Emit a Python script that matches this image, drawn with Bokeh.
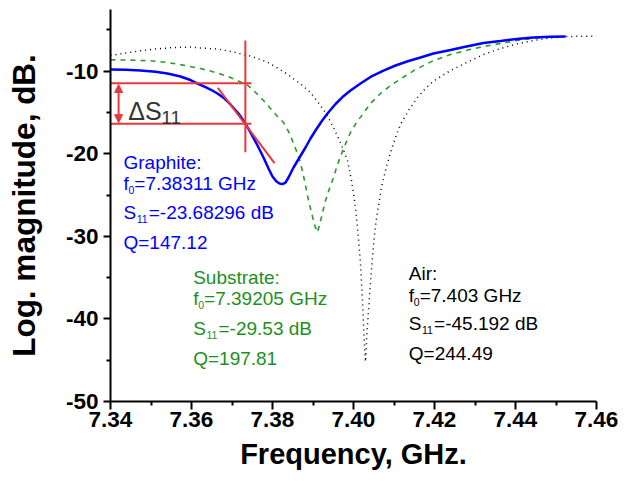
from bokeh.plotting import figure
from bokeh.models import Range1d, Arrow, NormalHead, FixedTicker, CustomJSTickFormatter
from bokeh.core.properties import value
from bokeh.embed import file_html
from bokeh.resources import INLINE

# ---------------- data ----------------
graphite_f = [7.34000, 7.34370, 7.34741, 7.35111, 7.35407, 7.35728, 7.35975, 7.36148,
              7.36346, 7.36469, 7.36642, 7.36815, 7.36963, 7.37160, 7.37333, 7.37457,
              7.37605, 7.37778, 7.37901, 7.38000, 7.38099, 7.38173, 7.38247, 7.38321,
              7.38395, 7.38519, 7.38667, 7.38815, 7.38938, 7.39062, 7.39210, 7.39358,
              7.39556, 7.39728, 7.39926, 7.40173, 7.40420, 7.40741, 7.41037, 7.41358,
              7.41654, 7.41975, 7.42395, 7.42790, 7.43210, 7.43630, 7.44025, 7.44444,
              7.44864, 7.45235]
graphite_s11 = [-9.81, -9.84, -9.93, -10.07, -10.29, -10.65, -11.08, -11.50,
                -11.93, -12.23, -12.71, -13.32, -14.04, -15.13, -16.38, -17.43,
                -18.77, -20.46, -21.79, -22.76, -23.37, -23.61, -23.68, -23.49,
                -22.88, -21.67, -20.46, -19.25, -18.16, -17.19, -16.10, -15.13,
                -13.98, -13.14, -12.34, -11.50, -10.71, -9.93, -9.32, -8.78,
                -8.35, -7.87, -7.45, -7.02, -6.60, -6.36, -6.11, -5.93,
                -5.85, -5.81]

substrate_f = [7.34000, 7.34494, 7.34988, 7.35407, 7.35852, 7.36222, 7.36469, 7.36716,
               7.36963, 7.37210, 7.37333, 7.37531, 7.37778, 7.37951, 7.38123, 7.38272,
               7.38395, 7.38543, 7.38691, 7.38790, 7.38889, 7.38963, 7.39037, 7.39104,
               7.39160, 7.39235, 7.39309, 7.39407, 7.39506, 7.39605, 7.39753, 7.39926,
               7.40074, 7.40222, 7.40420, 7.40667, 7.40914, 7.41160, 7.41531, 7.41975,
               7.42395, 7.42815, 7.43210, 7.43630, 7.44025, 7.44444, 7.44864, 7.45235]
substrate_s11 = [-8.63, -8.67, -8.75, -8.96, -9.32, -9.69, -9.99, -10.35,
                 -10.77, -11.32, -11.47, -12.34, -13.56, -14.52, -15.50, -16.22,
                 -17.31, -19.01, -21.07, -23.24, -25.67, -27.12, -28.57, -29.53,
                 -28.69, -27.12, -25.67, -24.21, -22.88, -21.31, -19.37, -17.43,
                 -16.22, -15.25, -13.92, -12.71, -11.74, -10.96, -9.81, -8.72,
                 -7.99, -7.45, -7.02, -6.66, -6.30, -6.03, -5.87, -5.81]

air_f = [7.34000, 7.34370, 7.34741, 7.35111, 7.35481, 7.35728, 7.35975, 7.36296,
         7.36642, 7.37037, 7.37457, 7.37877, 7.38272, 7.38691, 7.38938, 7.39111,
         7.39309, 7.39506, 7.39679, 7.39852, 7.39951, 7.40025, 7.40074, 7.40123,
         7.40173, 7.40202, 7.40230, 7.40254, 7.40279, 7.40296, 7.40311, 7.40328,
         7.40353, 7.40395, 7.40437, 7.40494, 7.40543, 7.40617, 7.40691, 7.40790,
         7.40914, 7.41037, 7.41160, 7.41358, 7.41580, 7.41778, 7.41975, 7.42395,
         7.42815, 7.43210, 7.43630, 7.44025, 7.44444, 7.44864, 7.45284, 7.45654,
         7.46000]
air_s11 = [-8.11, -7.81, -7.54, -7.32, -7.18, -7.12, -7.09, -7.23,
           -7.32, -7.69, -8.17, -8.92, -10.05, -11.54, -12.59, -13.68,
           -15.01, -16.83, -18.64, -20.82, -23.24, -25.67, -27.72, -30.27,
           -33.29, -35.96, -38.62, -41.40, -44.07, -45.19, -43.83, -42.01,
           -40.19, -37.29, -34.50, -31.11, -28.69, -26.27, -24.09, -22.03,
           -19.85, -18.04, -16.46, -14.77, -13.20, -12.11, -11.20, -9.93,
           -8.90, -7.99, -7.26, -6.72, -6.30, -5.99, -5.81, -5.77,
           -5.77]

x_ticks = [7.34, 7.36, 7.38, 7.40, 7.42, 7.44, 7.46]
x_minor = [7.35, 7.37, 7.39, 7.41, 7.43, 7.45]
y_ticks = [-50, -40, -30, -20, -10]
y_minor = [-45, -35, -25, -15, -5]

# Delta S11 construction
marker_f = 7.3733
marker_s11_substrate = -11.47
marker_s11_graphite = -16.38
marker_v_span = [-6.30, -19.82]
hline_f = [7.3400, 7.3748]
tangent_f = [7.3665, 7.3805]
tangent_s11 = [-12.02, -21.15]
arrow_f = 7.3420
arrow_s11 = [-11.62, -16.24]

graphite_text = ["Graphite:", "=7.38311 GHz", "=-23.68296 dB", "Q=147.12"]
substrate_text = ["Substrate:", "=7.39205 GHz", "=-29.53 dB", "Q=197.81"]
air_text = ["Air:", "=7.403 GHz", "=-45.192 dB", "Q=244.49"]

BLUE = "#0000FF"
GREEN = "#1E8F1E"
RED = "#E8383D"
FONT = "Liberation Sans"

p = figure(width=627, height=481, x_range=Range1d(7.34, 7.46), y_range=Range1d(-50, -2.54),
           output_backend="svg", toolbar_location=None,
           min_border_left=110, min_border_right=31, min_border_top=9, min_border_bottom=80)
p.grid.visible = False
p.outline_line_color = None
p.background_fill_color = "white"
p.border_fill_color = "white"

# curves
p.line(air_f, air_s11, line_color="black", line_width=1.5, line_dash="1 4")
p.line(substrate_f, substrate_s11, line_color="#2A9A2A", line_width=1.6, line_dash="5 5")
p.line(graphite_f, graphite_s11, line_color=BLUE, line_width=2.5)

# red construction
p.line(hline_f, [marker_s11_substrate] * 2, line_color=RED, line_width=2)
p.line(hline_f, [marker_s11_graphite] * 2, line_color=RED, line_width=2)
p.line([marker_f] * 2, marker_v_span, line_color=RED, line_width=2)
p.line(tangent_f, tangent_s11, line_color=RED, line_width=2)
p.add_layout(Arrow(start=NormalHead(size=8, fill_color=RED, line_color=RED),
                   end=NormalHead(size=8, fill_color=RED, line_color=RED),
                   x_start=arrow_f, y_start=arrow_s11[0], x_end=arrow_f, y_end=arrow_s11[1],
                   line_color=RED, line_width=2))

def txt(x, y, s, color, size, dx=0, dy=0):
    p.text(x=[x], y=[y], text=[s], text_color=color, text_font=value(FONT),
           text_font_size=size, text_baseline="alphabetic", text_align="left",
           x_offset=dx, y_offset=dy)

txt(7.3444, -14.77, "ΔS", "#333333", "25px")
txt(7.3444, -14.77, "11", "#333333", "19px", dx=33, dy=7)

MAIN = "19px"
SUB = "10.5px"
def block(x0, baselines, lines, color):
    txt(x0, baselines[0], lines[0], color, MAIN)
    txt(x0, baselines[1], "f", color, MAIN)
    txt(x0, baselines[1], "0", color, SUB, dx=5.0, dy=6.5)
    txt(x0, baselines[1], lines[1], color, MAIN, dx=10.9)
    txt(x0, baselines[2], "S", color, MAIN)
    txt(x0, baselines[2], "11", color, SUB, dx=13.2, dy=6.5)
    txt(x0, baselines[2], lines[2], color, MAIN, dx=25.3)
    txt(x0, baselines[3], lines[3], color, MAIN)

block(7.3432, [-21.03, -23.64, -27.08, -30.71], graphite_text, BLUE)
block(7.36042, [-35.02, -37.57, -41.20, -44.83], substrate_text, GREEN)
block(7.41365, [-34.47, -37.17, -40.59, -44.23], air_text, "#000000")

# axes
p.xaxis.ticker = FixedTicker(ticks=x_ticks, minor_ticks=x_minor)
p.yaxis.ticker = FixedTicker(ticks=y_ticks, minor_ticks=y_minor)
p.xaxis.formatter = CustomJSTickFormatter(code="return tick.toFixed(2);")
p.yaxis.formatter = CustomJSTickFormatter(code="return tick.toFixed(0);")
for ax in (p.xaxis, p.yaxis):
    ax.axis_line_width = 2
    ax.axis_line_color = "black"
    ax.major_tick_line_width = 2
    ax.minor_tick_line_width = 2
    ax.major_tick_in = 0
    ax.minor_tick_in = 0
    ax.major_label_text_font = FONT
    ax.major_label_text_font_style = "bold"
    ax.major_label_text_font_size = "22.5px"
    ax.major_label_text_color = "black"
    ax.axis_label_text_font = FONT
    ax.axis_label_text_font_style = "bold"
    ax.axis_label_text_color = "black"
p.xaxis.axis_label_text_font_size = "29px"
p.yaxis.axis_label_text_font_size = "31.5px"
p.xaxis.major_tick_out = 8
p.xaxis.minor_tick_out = 4
p.yaxis.major_tick_out = 7
p.yaxis.minor_tick_out = 4
p.xaxis.major_label_standoff = 2
p.yaxis.major_label_standoff = 5
p.xaxis.axis_label = "Frequency, GHz."
p.yaxis.axis_label = "Log. magnitude, dB."
p.xaxis.axis_label_standoff = 8
p.yaxis.axis_label_standoff = 21

open("out.html", "w").write(file_html(p, INLINE))
